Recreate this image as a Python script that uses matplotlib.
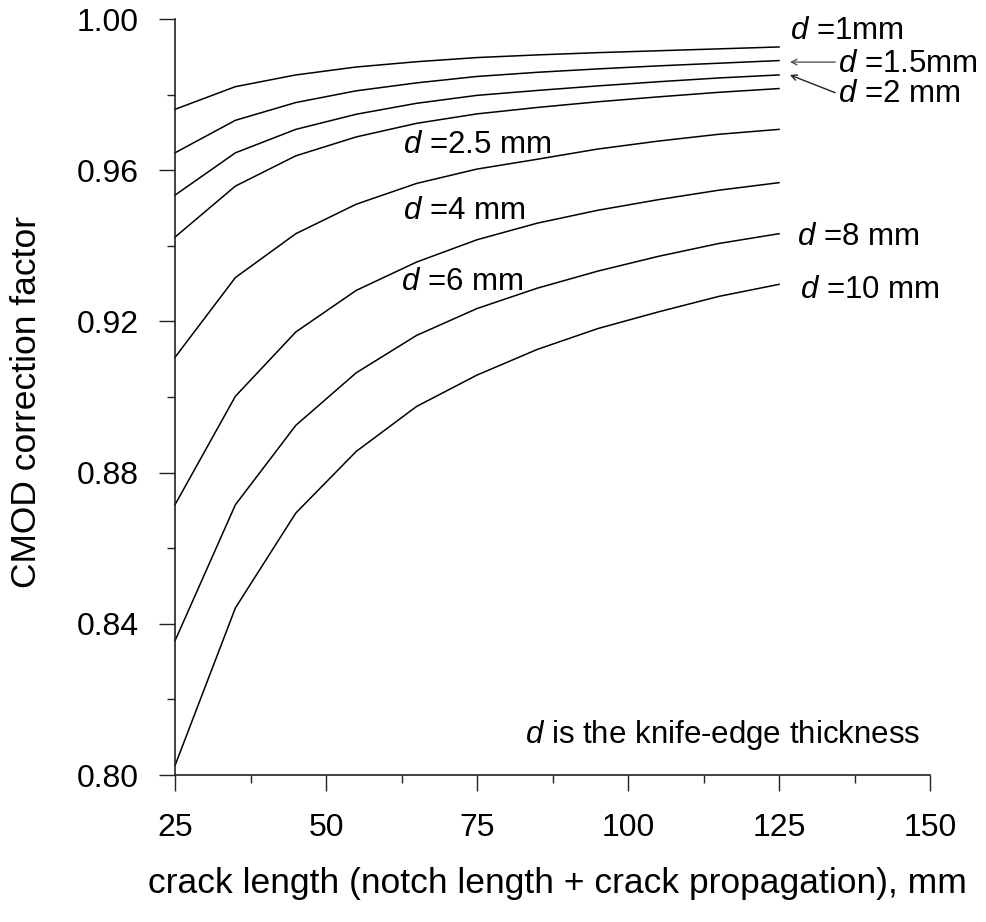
import matplotlib
matplotlib.use("Agg")
import matplotlib.pyplot as plt
from matplotlib.ticker import MultipleLocator

plt.rcParams['font.family'] = ['Liberation Sans', 'DejaVu Sans']
plt.rcParams['mathtext.fontset'] = 'custom'
plt.rcParams['mathtext.rm'] = 'Liberation Sans'
plt.rcParams['mathtext.it'] = 'Liberation Sans:italic'

crack_length = [25, 35, 45, 55, 65, 75, 85, 95, 105, 115, 125]
d_1 = [0.9761, 0.9821, 0.9852, 0.9873, 0.9887, 0.9898, 0.9905, 0.9911, 0.9916, 0.9921, 0.9926]
d_1_5 = [0.9646, 0.9732, 0.9779, 0.9810, 0.9831, 0.9848, 0.9859, 0.9868, 0.9876, 0.9883, 0.9890]
d_2 = [0.9534, 0.9646, 0.9708, 0.9748, 0.9777, 0.9798, 0.9811, 0.9823, 0.9834, 0.9844, 0.9852]
d_2_5 = [0.9423, 0.9558, 0.9638, 0.9688, 0.9724, 0.9749, 0.9766, 0.9781, 0.9794, 0.9806, 0.9816]
d_4 = [0.9105, 0.9316, 0.9432, 0.9510, 0.9565, 0.9603, 0.9629, 0.9656, 0.9677, 0.9695, 0.9708]
d_6 = [0.8715, 0.9002, 0.9172, 0.9282, 0.9357, 0.9416, 0.9460, 0.9494, 0.9522, 0.9547, 0.9567]
d_8 = [0.8355, 0.8715, 0.8925, 0.9064, 0.9163, 0.9234, 0.9288, 0.9333, 0.9372, 0.9406, 0.9432]
d_10 = [0.8025, 0.8442, 0.8693, 0.8856, 0.8975, 0.9058, 0.9126, 0.9181, 0.9225, 0.9266, 0.9298]

series = [d_1, d_1_5, d_2, d_2_5, d_4, d_6, d_8, d_10]

x_ticks = [25, 50, 75, 100, 125, 150]
y_ticks = [0.80, 0.84, 0.88, 0.92, 0.96, 1.00]
y_tick_labels = ["0.80", "0.84", "0.88", "0.92", "0.96", "1.00"]

fig = plt.figure(figsize=(9.86, 9.22), dpi=100)
ax = fig.add_axes([175/986, 1-775/922, (930-175)/986, (775-19)/922])

for s in series:
    ax.plot(crack_length, s, color='black', lw=1.1, clip_on=False)

ax.set_xlim(25, 150)
ax.set_ylim(0.80, 1.00)
ax.set_xticks(x_ticks)
ax.set_xticklabels([str(v) for v in x_ticks])
ax.set_yticks(y_ticks)
ax.set_yticklabels(y_tick_labels)
ax.xaxis.set_minor_locator(MultipleLocator(12.5))
ax.yaxis.set_minor_locator(MultipleLocator(0.02))

for side in ['top', 'right']:
    ax.spines[side].set_visible(False)
for side in ['left', 'bottom']:
    ax.spines[side].set_linewidth(1.2)
    ax.spines[side].set_color('#222222')

ax.tick_params(axis='both', which='major', direction='out', length=11.2, width=1.0,
               labelsize=23, color='#222222')
ax.tick_params(axis='both', which='minor', direction='out', length=5.8, width=1.0,
               color='#222222')
ax.tick_params(axis='y', which='major', pad=15)
ax.tick_params(axis='x', which='major', pad=16)

ax.set_xlabel("crack length (notch length + crack propagation), mm", fontsize=25.5,
              va='center', ha='center')
ax.xaxis.set_label_coords(0.507, (775-883)/756)
ax.set_ylabel("CMOD correction factor", fontsize=25.5, va='center', ha='center')
ax.yaxis.set_label_coords((27-175)/755, (775-402)/756)

fs = 22.5
ax.text(126.8, 0.9946, r"$d$ =1mm", fontsize=fs, va='baseline', ha='left')
ax.text(134.7, 0.9860, r"$d$ =1.5mm", fontsize=fs, va='baseline', ha='left')
ax.text(134.7, 0.9781, r"$d$ =2 mm", fontsize=fs, va='baseline', ha='left')
ax.annotate("", xy=(126.8, 0.9886), xytext=(134.3, 0.9886),
            arrowprops=dict(arrowstyle='->', color='#555555', lw=1.0, shrinkA=0, shrinkB=0))
ax.annotate("", xy=(126.8, 0.9852), xytext=(134.3, 0.9805),
            arrowprops=dict(arrowstyle='->', color='#222222', lw=1.0, shrinkA=0, shrinkB=0))
ax.text(62.7, 0.9645, r"$d$ =2.5 mm", fontsize=fs, va='baseline', ha='left')
ax.text(62.7, 0.9472, r"$d$ =4 mm", fontsize=fs, va='baseline', ha='left')
ax.text(62.4, 0.9284, r"$d$ =6 mm", fontsize=fs, va='baseline', ha='left')
ax.text(127.9, 0.9401, r"$d$ =8 mm", fontsize=fs, va='baseline', ha='left')
ax.text(128.4, 0.9262, r"$d$ =10 mm", fontsize=fs, va='baseline', ha='left')
ax.text(82.9, 0.8085, r"$d$ is the knife-edge thickness", fontsize=fs, va='baseline', ha='left')

fig.savefig("out.png", dpi=100)
